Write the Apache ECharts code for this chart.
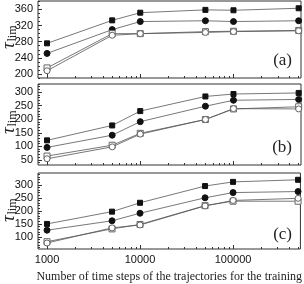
<!DOCTYPE html>
<html>
<head>
<meta charset="utf-8">
<script src="https://cdn.jsdelivr.net/npm/echarts@6/dist/echarts.min.js"></script>
<style>
  html, body { margin: 0; padding: 0; background: #fff; }
  #main { width: 304px; height: 284px; }
</style>
</head>
<body>
<div id="main"></div>
<script>
// time steps used for training
const steps = [1000, 5000, 10000, 50000, 100000, 500000]

// panel (a)
const aFilledSq = [276, 333, 352, 359, 358, 363]
const aFilledCi = [251, 310, 330, 332, 330, 332]
const aOpenSq = [215, 300, 300, 305, 306, 308]
const aOpenCi = [208, 296, 300, 303, 305, 307]
// panel (b)
const bFilledSq = [122, 177, 230, 284, 293, 297]
const bFilledCi = [96, 141, 191, 248, 270, 273]
const bOpenSq = [64, 104, 148, 199, 238, 246]
const bOpenCi = [54, 98, 145, 199, 239, 238]
// panel (c)
const cFilledSq = [150, 197, 231, 295, 311, 319]
const cFilledCi = [126, 162, 191, 250, 270, 274]
const cOpenSq = [82, 131, 148, 220, 237, 237]
const cOpenCi = [77, 135, 146, 219, 240, 248]

const xMajor = [1000, 10000, 100000]
const xMinor = [2000, 3000, 4000, 5000, 6000, 7000, 8000, 9000,
  20000, 30000, 40000, 50000, 60000, 70000, 80000, 90000,
  200000, 300000, 400000, 500000]
const yTicksA = [200, 240, 280, 320, 360]
const yTicksB = [50, 100, 150, 200, 250, 300]
const yTicksC = [100, 150, 200, 250, 300]

function range (from, to, step) {
  let out = []
  for (let v = from; v <= to; v += step) out.push(v)
  return out
}

const panels = [
  { tag: '(a)', top: 1, height: 77, min: 190, max: 381, ticks: yTicksA, minor: range(190, 380, 10),
    data: [aFilledSq, aFilledCi, aOpenSq, aOpenCi] },
  { tag: '(b)', top: 84, height: 81, min: 31, max: 330, ticks: yTicksB, minor: range(40, 330, 10),
    data: [bFilledSq, bFilledCi, bOpenSq, bOpenCi] },
  { tag: '(c)', top: 173, height: 79, min: 54, max: 345, ticks: yTicksC, minor: range(60, 340, 10),
    data: [cFilledSq, cFilledCi, cOpenSq, cOpenCi] }
]

const frame = '#333'
const markers = [
  { symbol: 'rect', size: 5, fill: '#111', border: '#111' },
  { symbol: 'circle', size: 6, fill: '#111', border: '#111' },
  { symbol: 'rect', size: 6, fill: '#fff', border: '#666' },
  { symbol: 'circle', size: 6, fill: '#fff', border: '#666' }
]

let grid = []
let xAxis = []
let yAxis = []
let series = []
let graphic = []

panels.forEach((p, i) => {
  grid.push({ left: 38, right: 3, top: p.top, height: p.height, show: true,
    borderColor: frame, borderWidth: 1, backgroundColor: 'transparent' })
  const last = i === panels.length - 1
  // major x axis
  xAxis.push({
    type: 'log', gridIndex: i, position: 'bottom', min: 800, max: 530000,
    axisLine: { show: false, onZero: false },
    axisTick: { show: true, inside: true, length: 4, customValues: xMajor, lineStyle: { color: frame } },
    axisLabel: { show: last, customValues: xMajor, fontSize: 11, color: '#111',
      fontFamily: 'Liberation Sans', margin: 5, formatter: (v) => String(Math.round(v)) },
    splitLine: { show: false },
    name: last ? 'Number of time steps of the trajectories for the training' : '',
    nameLocation: 'middle', nameGap: 22,
    nameTextStyle: { fontFamily: 'Liberation Serif', fontSize: 12, color: '#222' }
  })
  // minor x axis
  xAxis.push({
    type: 'log', gridIndex: i, position: 'bottom', min: 800, max: 530000,
    axisLine: { show: false, onZero: false },
    axisTick: { show: true, inside: true, length: 2, customValues: xMinor, lineStyle: { color: frame } },
    axisLabel: { show: false },
    splitLine: { show: false }
  })
  yAxis.push({
    type: 'value', gridIndex: i, position: 'left', min: p.min, max: p.max,
    axisLine: { show: false },
    axisTick: { show: true, inside: true, length: 4, customValues: p.ticks, lineStyle: { color: frame } },
    axisLabel: { customValues: p.ticks, fontSize: 11, color: '#111', fontFamily: 'Liberation Sans', margin: 5 },
    splitLine: { show: false }
  })
  yAxis.push({
    type: 'value', gridIndex: i, position: 'left', min: p.min, max: p.max,
    axisLine: { show: false },
    axisTick: { show: true, inside: true, length: 2, customValues: p.minor, lineStyle: { color: frame } },
    axisLabel: { show: false },
    splitLine: { show: false }
  })
  p.data.forEach((vals, k) => {
    const m = markers[k]
    series.push({
      type: 'line', xAxisIndex: i * 2, yAxisIndex: i * 2,
      data: steps.map((s, j) => [s, vals[j]]),
      symbol: m.symbol, symbolSize: m.size, showSymbol: true,
      itemStyle: { color: m.fill, borderColor: m.border, borderWidth: 1 },
      lineStyle: { color: '#555', width: 0.8 },
      emphasis: { disabled: true },
      animation: false
    })
  })
  // panel tag
  graphic.push({
    type: 'text', right: 12, top: p.top + p.height - 26,
    style: { text: p.tag, font: '17px "Liberation Serif"', fill: '#222' }
  })
  // rotated y axis title: tau with subscript "lim"
  graphic.push({
    type: 'group', x: 9, y: p.top + p.height / 2, rotation: Math.PI / 2,
    children: [
      { type: 'text', x: -6, y: 0,
        style: { text: 'τ', font: 'italic 19px "Liberation Serif"', fill: '#222',
          align: 'center', verticalAlign: 'middle' } },
      { type: 'text', x: 6, y: 4,
        style: { text: 'lim', font: '12px "Liberation Serif"', fill: '#222',
          align: 'center', verticalAlign: 'middle' } }
    ]
  })
})

const chart = echarts.init(document.getElementById('main'))
chart.setOption({
  animation: false,
  grid: grid,
  xAxis: xAxis,
  yAxis: yAxis,
  series: series,
  graphic: graphic
})
</script>
</body>
</html>
